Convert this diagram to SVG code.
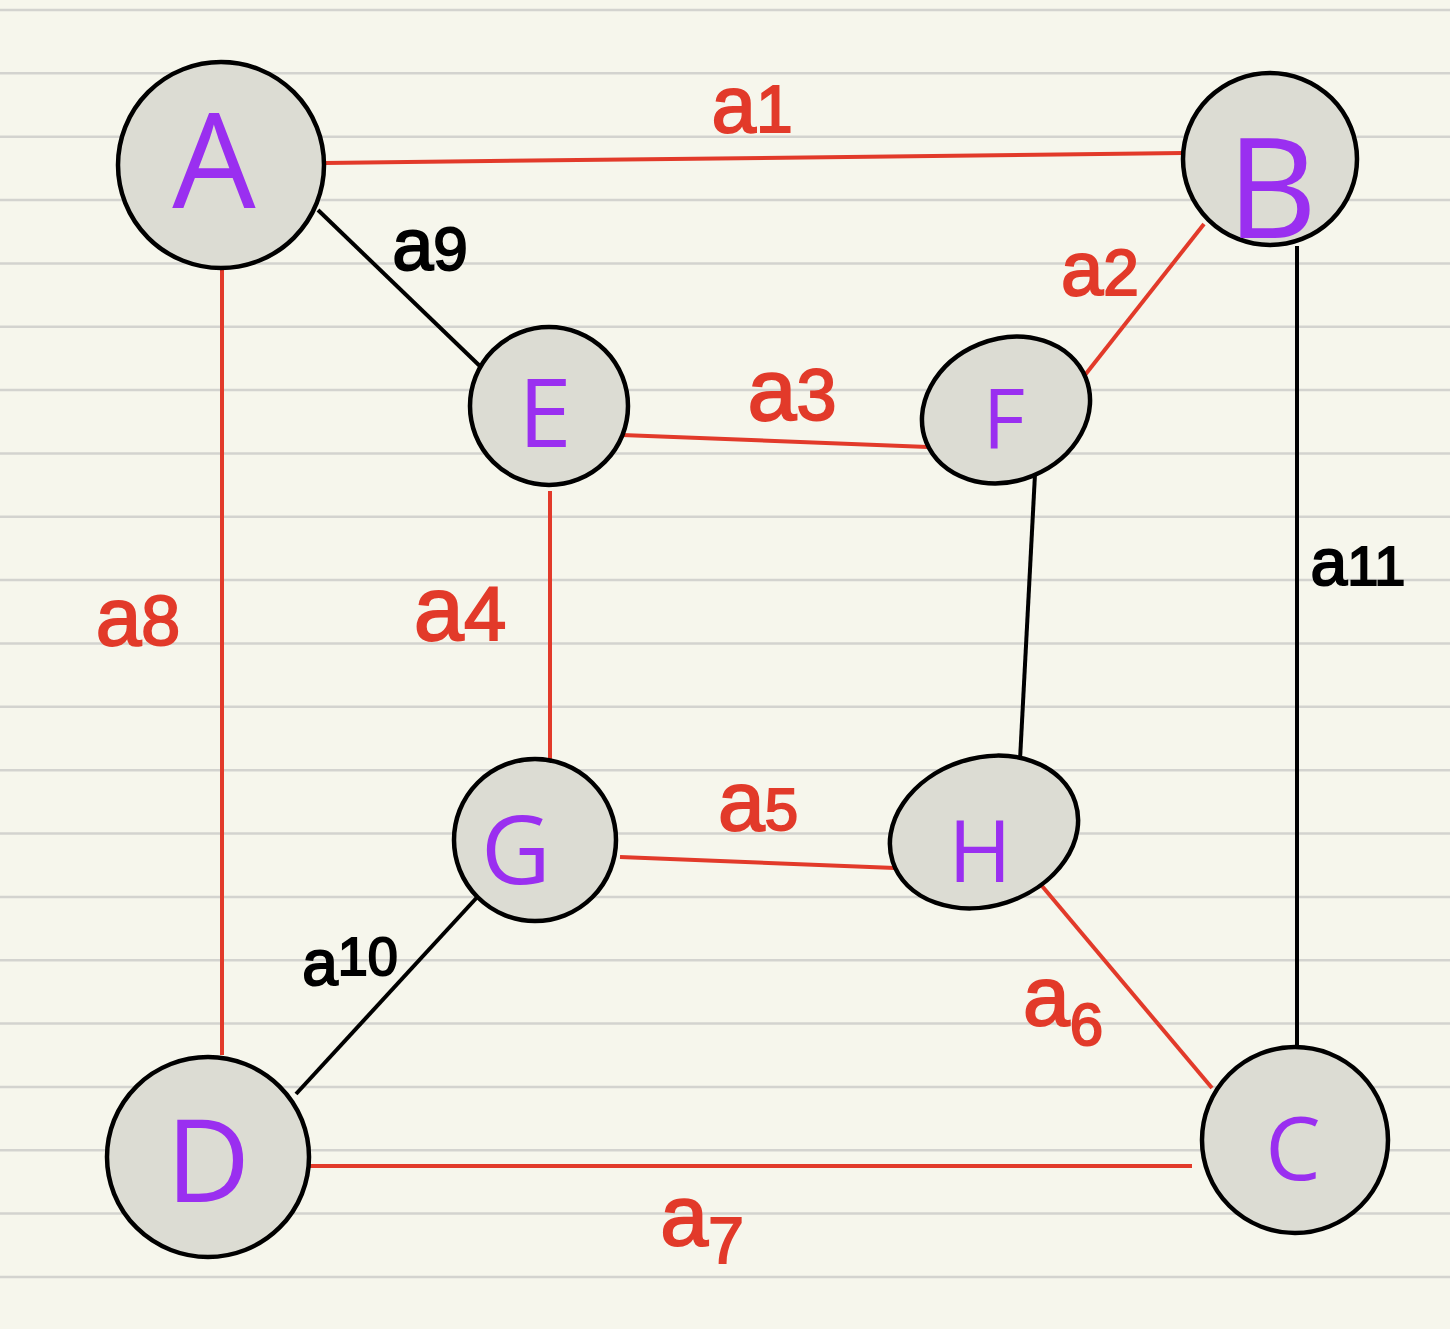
<svg xmlns="http://www.w3.org/2000/svg" width="1450" height="1329" viewBox="0 0 1450 1329">
<style>
.rule{stroke:#d3d3cf;stroke-width:2.5}
.node{fill:#dcdcd3;stroke:#000;stroke-width:4.5}
.nl{font-family:"Open Sans","DejaVu Sans",sans-serif;fill:#9a2ff0;text-anchor:middle}
.r{stroke:#e23a2a;stroke-width:4;fill:none}
.k{stroke:#000;stroke-width:4;fill:none}
.lr{font-family:"Liberation Sans",sans-serif;fill:#e23a2a;stroke:#e23a2a;stroke-width:2;text-anchor:middle}
.lk{font-family:"Liberation Sans",sans-serif;fill:#000;stroke:#000;stroke-width:2;text-anchor:middle}
</style>
<rect width="1450" height="1329" fill="#f6f6ec"/>
<g id="paper">
<line class="rule" x1="0" y1="10" x2="1450" y2="10"/>
<line class="rule" x1="0" y1="73.3" x2="1450" y2="73.3"/>
<line class="rule" x1="0" y1="136.7" x2="1450" y2="136.7"/>
<line class="rule" x1="0" y1="200" x2="1450" y2="200"/>
<line class="rule" x1="0" y1="263.4" x2="1450" y2="263.4"/>
<line class="rule" x1="0" y1="326.7" x2="1450" y2="326.7"/>
<line class="rule" x1="0" y1="390" x2="1450" y2="390"/>
<line class="rule" x1="0" y1="453.4" x2="1450" y2="453.4"/>
<line class="rule" x1="0" y1="516.8" x2="1450" y2="516.8"/>
<line class="rule" x1="0" y1="580.1" x2="1450" y2="580.1"/>
<line class="rule" x1="0" y1="643.5" x2="1450" y2="643.5"/>
<line class="rule" x1="0" y1="706.8" x2="1450" y2="706.8"/>
<line class="rule" x1="0" y1="770.2" x2="1450" y2="770.2"/>
<line class="rule" x1="0" y1="833.5" x2="1450" y2="833.5"/>
<line class="rule" x1="0" y1="896.9" x2="1450" y2="896.9"/>
<line class="rule" x1="0" y1="960.2" x2="1450" y2="960.2"/>
<line class="rule" x1="0" y1="1023.6" x2="1450" y2="1023.6"/>
<line class="rule" x1="0" y1="1086.9" x2="1450" y2="1086.9"/>
<line class="rule" x1="0" y1="1150.3" x2="1450" y2="1150.3"/>
<line class="rule" x1="0" y1="1213.6" x2="1450" y2="1213.6"/>
<line class="rule" x1="0" y1="1277" x2="1450" y2="1277"/>
</g>
<g id="connectors">
<line class="r" x1="325" y1="163" x2="1183" y2="153"/>
<line class="r" x1="222" y1="268" x2="222" y2="1055"/>
<line class="k" x1="318" y1="210" x2="484" y2="370"/>
<line class="r" x1="1204" y1="224" x2="1085" y2="375"/>
<line class="k" x1="1297" y1="246" x2="1297" y2="1047"/>
<line class="r" x1="622" y1="435" x2="928" y2="447"/>
<line class="r" x1="550" y1="491" x2="550" y2="760"/>
<line class="k" x1="1035" y1="474" x2="1020" y2="760"/>
<line class="r" x1="620" y1="857" x2="895" y2="868"/>
<line class="r" x1="1042" y1="886" x2="1212" y2="1088"/>
<line class="r" x1="308" y1="1166" x2="1192" y2="1166"/>
<line class="k" x1="481" y1="893" x2="296" y2="1094"/>
<text class="lr" x="752" y="132" font-size="80">a<tspan font-size="66">1</tspan></text>
<text class="lk" x="430" y="270" font-size="74">a<tspan font-size="62">9</tspan></text>
<text class="lr" x="1100" y="295" font-size="76">a<tspan font-size="64">2</tspan></text>
<text class="lr" x="792" y="420" font-size="88">a<tspan font-size="72">3</tspan></text>
<text class="lr" x="138" y="645" font-size="82">a<tspan font-size="70">8</tspan></text>
<text class="lr" x="460" y="640" font-size="90">a<tspan font-size="76">4</tspan></text>
<text class="lk" x="1358" y="585" font-size="66">a<tspan font-size="56">11</tspan></text>
<text class="lr" x="758" y="830" font-size="84">a<tspan font-size="60">5</tspan></text>
<text class="lk" x="350" y="985" font-size="64">a<tspan font-size="54" dy="-10">10</tspan></text>
<text class="lr" x="1063" y="1025" font-size="84">a<tspan font-size="60" dy="20">6</tspan></text>
<text class="lr" x="702" y="1245" font-size="86">a<tspan font-size="64" dy="18">7</tspan></text>
</g>
<g id="node-A"><circle class="node" cx="221" cy="165" r="103"/><text class="nl" x="214" y="208" font-size="132">A</text></g>
<g id="node-B"><ellipse class="node" cx="1270" cy="159" rx="87" ry="86"/><text class="nl" x="1272" y="238" font-size="140">B</text></g>
<g id="node-C"><circle class="node" cx="1295" cy="1140" r="93"/><text class="nl" x="1293" y="1180" font-size="88">C</text></g>
<g id="node-D"><ellipse class="node" cx="208" cy="1157" rx="101" ry="100"/><text class="nl" x="208" y="1202" font-size="116">D</text></g>
<g id="node-E"><circle class="node" cx="549" cy="406" r="79"/><text class="nl" x="545" y="447" font-size="96">E</text></g>
<g id="node-F"><ellipse class="node" cx="1006" cy="410" rx="86" ry="71" transform="rotate(-22 1006 410)"/><text class="nl" x="1004" y="448" font-size="82">F</text></g>
<g id="node-G"><circle class="node" cx="535" cy="840" r="81"/><text class="nl" x="516" y="884" font-size="96">G</text></g>
<g id="node-H"><ellipse class="node" cx="984" cy="832" rx="96" ry="74" transform="rotate(-18 984 832)"/><text class="nl" x="980" y="882" font-size="86">H</text></g>
</svg>
